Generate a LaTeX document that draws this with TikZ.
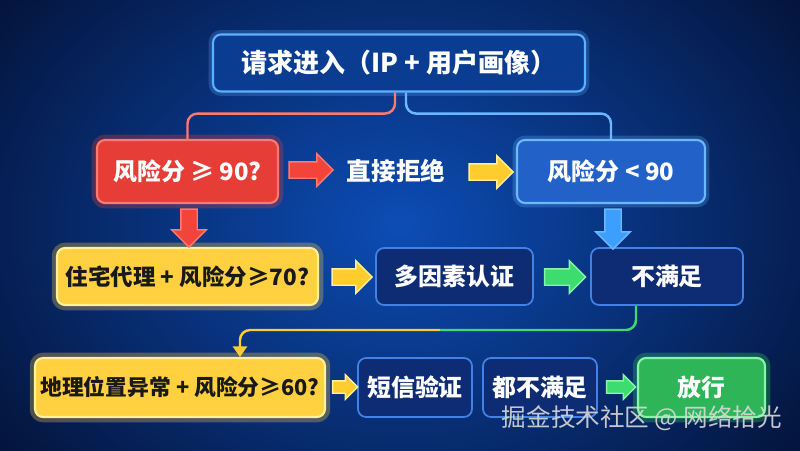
\documentclass[tikz,border=0pt]{standalone}
\usepackage{fontspec}
\setmainfont{Noto Sans CJK SC}
\usetikzlibrary{shapes.arrows,arrows.meta}

\definecolor{bgin}{HTML}{0C4DB6}
\definecolor{bgout}{HTML}{04143C}
\definecolor{topfill}{HTML}{0A3C92}
\definecolor{topline}{HTML}{5CB0FF}
\definecolor{redfill}{HTML}{E63E36}
\definecolor{redline}{HTML}{FF7A6C}
\definecolor{bluefill}{HTML}{2262C8}
\definecolor{blueline}{HTML}{6CB8FF}
\definecolor{yelfill}{HTML}{FFD040}
\definecolor{yelline}{HTML}{FFF09A}
\definecolor{navyfill}{HTML}{0D2C74}
\definecolor{navyline}{HTML}{4282E6}
\definecolor{grnfill}{HTML}{2DB558}
\definecolor{grnline}{HTML}{86F5A8}
\definecolor{grnarrow}{HTML}{3DDC6E}
\definecolor{yelarrow}{HTML}{FFCC2E}
\definecolor{redarrow}{HTML}{F2443A}
\definecolor{bluearrow}{HTML}{3C9EFF}

\begin{document}
\begin{tikzpicture}[x=0.02cm,y=-0.02cm]
\tikzstyle{every node}+=[inner sep=0pt]
\tikzstyle{box}=[rounded corners=0.16cm, line width=1.2pt, align=center, font=\fontsize{13.6}{16}\selectfont\bfseries]
\tikzstyle{topbox}=[box, fill=topfill, draw=topline, text=white, font=\fontsize{14.8}{16}\selectfont\bfseries, preaction={draw=topline, line width=5pt, opacity=.25}]
\tikzstyle{redbox}=[box, fill=redfill, draw=redline, text=white, preaction={draw=redfill, line width=6pt, opacity=.3}]
\tikzstyle{bluebox}=[box, fill=bluefill, draw=blueline, text=white, preaction={draw=blueline, line width=5pt, opacity=.25}]
\tikzstyle{yelbox}=[box, fill=yelfill, draw=yelline, text=black!90, font=\fontsize{12.8}{16}\selectfont\bfseries, preaction={draw=yelfill, line width=6pt, opacity=.3}]
\tikzstyle{navybox}=[box, fill=navyfill, draw=navyline, text=white, line width=1pt]
\tikzstyle{grnbox}=[box, fill=grnfill, draw=grnline, text=white, preaction={draw=grnfill, line width=6pt, opacity=.35}]
\tikzstyle{plain}=[text=white, font=\fontsize{14}{16}\selectfont\bfseries]
\tikzstyle{wmtext}=[text=white!85!black, opacity=.9, font=\fontsize{14}{16}\selectfont]
\tikzstyle{barrow}=[single arrow, inner sep=0.15cm, single arrow head extend=0.16cm, minimum height=0.88cm, line width=0.8pt]
\tikzstyle{link}=[line width=1.4pt, rounded corners=0.2cm]

\useasboundingbox (0,0) rectangle (800,450);
\shade[inner color=bgin, outer color=bgout] (-100,-150) rectangle (900,600);

\node[topbox, minimum width=7.44cm, minimum height=1.14cm] (req) at (399,63) {请求进入（IP + 用户画像）};
\node[redbox, minimum width=3.62cm, minimum height=1.26cm] (hi) at (187.5,171.5) {风险分 ≥ 90?};
\node[plain] (deny) at (396,171) {直接拒绝};
\node[bluebox, minimum width=3.76cm, minimum height=1.26cm] (lo) at (611,171.5) {风险分 < 90};
\node[yelbox, minimum width=5.22cm, minimum height=1.14cm] (proxy) at (187.5,276.5) {住宅代理 + 风险分≥70?};
\node[navybox, minimum width=3.14cm, minimum height=1.14cm] (mfa) at (454.5,276.5) {多因素认证};
\node[navybox, minimum width=3.04cm, minimum height=1.14cm] (fail) at (667,276.5) {不满足};
\node[yelbox, minimum width=5.8cm, minimum height=1.18cm, font=\fontsize{12.4}{16}\selectfont\bfseries] (geo) at (180,387.5) {地理位置异常 + 风险分≥60?};
\node[navybox, minimum width=2.28cm, minimum height=1.18cm] (sms) at (415,387.5) {短信验证};
\node[navybox, minimum width=2.28cm, minimum height=1.18cm] (none) at (540,387.5) {都不满足};
\node[grnbox, minimum width=2.54cm, minimum height=1.18cm] (pass) at (701.5,387.5) {放行};
\node[wmtext] (wm) at (642,418) {掘金技术社区 @ 网络拾光};

\draw[link, draw=redline] ([xshift=-0.08cm]req.south) -- ++(0,21) -| (hi.north);
\draw[link, draw=blueline] ([xshift=0.14cm]req.south) -- ++(0,21) -| (lo.north);
\coordinate (turn) at (440,330);
\draw[link, draw=grnarrow] ([xshift=-0.62cm]fail.south) |- (turn);
\draw[link, draw=yelarrow, -{Triangle[length=6pt,width=8pt]}] (turn) -| ([xshift=1.2cm]geo.north);

\node[barrow, fill=redarrow, draw=redline] (a1) at (307,170) {};
\node[barrow, fill=yelarrow, draw=yelline] (a2) at (487,172) {};
\node[barrow, fill=redarrow, draw=redline, shape border rotate=270, minimum height=0.76cm, single arrow head extend=0.18cm] (a3) at (189,224) {};
\node[barrow, fill=bluearrow, draw=blueline, shape border rotate=270, minimum height=0.8cm, single arrow head extend=0.18cm] (a4) at (613,225) {};
\node[barrow, fill=yelarrow, draw=yelline, minimum height=0.8cm] (a5) at (348,277) {};
\node[barrow, fill=grnarrow, draw=grnline, minimum height=0.82cm] (a6) at (561,277) {};
\node[barrow, fill=yelarrow, draw=yelline, minimum height=0.5cm, inner sep=0.11cm, single arrow head extend=0.12cm] (a7) at (342,387) {};
\node[barrow, fill=grnarrow, draw=grnline, minimum height=0.58cm, inner sep=0.11cm, single arrow head extend=0.12cm] (a8) at (618,387) {};
\end{tikzpicture}
\end{document}
